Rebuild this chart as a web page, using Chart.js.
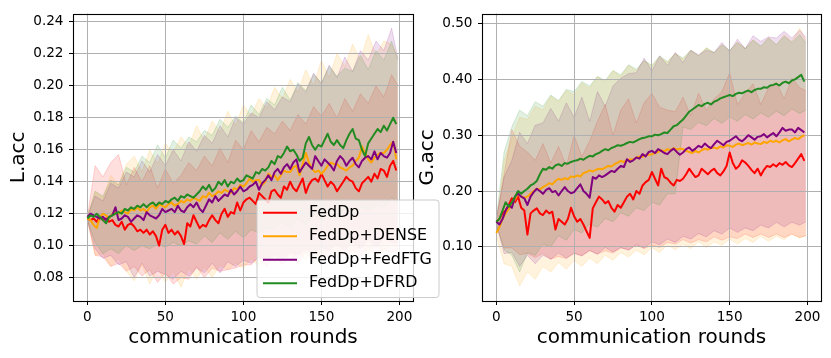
<!DOCTYPE html>
<html><head><meta charset="utf-8">
<script src="https://cdn.jsdelivr.net/npm/chart.js@4/dist/chart.umd.min.js"></script>
<style>
html,body{margin:0;padding:0;background:#fff;width:831px;height:358px;overflow:hidden}
#cL{position:absolute;left:0;top:0;z-index:2}
#cR{position:absolute;left:415px;top:0;z-index:1}
</style></head><body>
<canvas id="cL" width="445" height="358"></canvas>
<canvas id="cR" width="416" height="358"></canvas>
<script>
// ---------------- data ----------------
const seriesNames = ['FedDp', 'FedDp+DENSE', 'FedDp+FedFTG', 'FedDp+DFRD'];
const xTitle = 'communication rounds';
const leftTitle = 'L.acc';
const rightTitle = 'G.acc';
const xTickValues = [0, 50, 100, 150, 200];
const leftTickValues = [0.08, 0.10, 0.12, 0.14, 0.16, 0.18, 0.20, 0.22, 0.24];
const rightTickValues = [0.10, 0.20, 0.30, 0.40, 0.50];

const rounds = [0,2,4,6,8,10,12,14,16,18,20,22,24,26,28,30,32,34,36,38,
40,42,44,46,48,50,52,54,56,58,60,62,64,66,68,70,72,74,76,78,
80,82,84,86,88,90,92,94,96,98,100,102,104,106,108,110,112,114,116,118,
120,122,124,126,128,130,132,134,136,138,140,142,144,146,148,150,152,154,156,158,
160,162,164,166,168,170,172,174,176,178,180,182,184,186,188,190,192,194,196,198];
const bandRounds = [0,5,10,15,20,25,30,35,40,45,50,55,60,65,70,75,80,85,90,95,
100,105,110,115,120,125,130,135,140,145,150,155,160,165,170,175,180,185,190,195,199];

// L.acc means
const leftFedDp = [0.117,0.116,0.117,0.115,0.118,0.116,0.117,0.115,0.116,0.113,
0.112,0.115,0.110,0.113,0.114,0.112,0.109,0.110,0.108,0.110,
0.107,0.109,0.106,0.100,0.110,0.113,0.108,0.110,0.107,0.109,
0.106,0.101,0.114,0.112,0.119,0.115,0.111,0.113,0.112,0.116,
0.119,0.116,0.114,0.120,0.123,0.118,0.121,0.120,0.127,0.122,
0.127,0.129,0.130,0.128,0.126,0.133,0.131,0.129,0.127,0.134,
0.135,0.132,0.130,0.137,0.135,0.140,0.136,0.134,0.138,0.142,
0.133,0.138,0.141,0.142,0.140,0.145,0.141,0.137,0.140,0.138,
0.134,0.137,0.140,0.143,0.141,0.140,0.136,0.134,0.139,0.141,
0.143,0.140,0.145,0.142,0.148,0.147,0.143,0.150,0.153,0.147];
const leftDense = [0.117,0.116,0.113,0.111,0.118,0.120,0.119,0.117,0.120,0.121,
0.120,0.122,0.121,0.120,0.123,0.122,0.124,0.122,0.123,0.121,
0.124,0.125,0.123,0.126,0.125,0.124,0.126,0.127,0.125,0.126,
0.128,0.127,0.129,0.128,0.130,0.129,0.128,0.131,0.130,0.133,
0.131,0.132,0.134,0.133,0.135,0.134,0.133,0.136,0.135,0.138,
0.137,0.139,0.142,0.140,0.141,0.141,0.138,0.140,0.145,0.143,
0.144,0.141,0.144,0.147,0.146,0.146,0.149,0.150,0.144,0.151,
0.158,0.152,0.148,0.146,0.147,0.145,0.147,0.150,0.152,0.151,
0.151,0.149,0.148,0.147,0.149,0.150,0.153,0.155,0.162,0.158,
0.154,0.152,0.155,0.157,0.158,0.158,0.160,0.163,0.165,0.154];
const leftFedFTG = [0.118,0.120,0.119,0.118,0.117,0.118,0.116,0.118,0.119,0.124,
0.116,0.117,0.119,0.118,0.115,0.117,0.119,0.118,0.116,0.121,
0.119,0.118,0.117,0.119,0.123,0.121,0.122,0.123,0.121,0.125,
0.122,0.121,0.124,0.126,0.124,0.127,0.123,0.121,0.125,0.129,
0.127,0.131,0.128,0.130,0.132,0.131,0.135,0.132,0.134,0.137,
0.134,0.135,0.137,0.138,0.140,0.135,0.139,0.141,0.144,0.141,
0.146,0.148,0.145,0.149,0.151,0.148,0.152,0.154,0.146,0.149,
0.152,0.150,0.148,0.156,0.153,0.150,0.154,0.152,0.150,0.147,
0.153,0.156,0.154,0.150,0.153,0.155,0.151,0.149,0.153,0.155,
0.156,0.154,0.159,0.154,0.158,0.156,0.155,0.158,0.165,0.158];
const leftDFRD = [0.117,0.119,0.118,0.120,0.118,0.116,0.114,0.118,0.119,0.120,
0.121,0.120,0.123,0.122,0.124,0.123,0.125,0.124,0.126,0.124,
0.126,0.127,0.125,0.127,0.126,0.128,0.127,0.129,0.130,0.128,
0.131,0.130,0.132,0.131,0.130,0.132,0.134,0.137,0.135,0.138,
0.134,0.136,0.140,0.138,0.141,0.137,0.140,0.139,0.142,0.140,
0.141,0.144,0.143,0.142,0.146,0.145,0.148,0.147,0.149,0.153,
0.151,0.156,0.155,0.158,0.162,0.159,0.160,0.157,0.153,0.155,
0.164,0.168,0.163,0.160,0.163,0.162,0.166,0.170,0.165,0.163,
0.166,0.163,0.161,0.166,0.170,0.173,0.167,0.166,0.160,0.156,
0.164,0.167,0.170,0.173,0.171,0.175,0.172,0.176,0.180,0.176];

// L.acc bands (upper / lower)
const leftFedDpUp = [0.118,0.150,0.143,0.152,0.157,0.138,0.149,0.140,0.150,0.136,0.148,0.139,0.144,0.152,0.147,0.156,0.150,0.161,0.152,0.166,0.160,0.172,0.165,0.174,0.170,0.178,0.172,0.182,0.176,0.187,0.181,0.189,0.180,0.192,0.184,0.195,0.189,0.200,0.193,0.207,0.200];
const leftFedDpLo = [0.116,0.094,0.093,0.087,0.089,0.084,0.087,0.081,0.085,0.077,0.083,0.076,0.080,0.079,0.087,0.080,0.086,0.084,0.085,0.086,0.088,0.088,0.093,0.087,0.094,0.088,0.095,0.089,0.096,0.090,0.097,0.091,0.096,0.094,0.097,0.093,0.099,0.093,0.098,0.096,0.096];
const leftDenseUp = [0.118,0.134,0.130,0.144,0.138,0.151,0.156,0.146,0.160,0.151,0.164,0.158,0.168,0.162,0.175,0.166,0.178,0.171,0.184,0.175,0.188,0.181,0.192,0.186,0.199,0.192,0.204,0.196,0.210,0.200,0.216,0.205,0.220,0.212,0.226,0.216,0.232,0.219,0.228,0.226,0.218];
const leftDenseLo = [0.116,0.094,0.095,0.087,0.092,0.084,0.078,0.088,0.076,0.086,0.077,0.084,0.074,0.086,0.079,0.087,0.080,0.088,0.085,0.089,0.086,0.092,0.087,0.093,0.089,0.095,0.090,0.096,0.091,0.097,0.092,0.098,0.093,0.099,0.094,0.100,0.095,0.101,0.096,0.102,0.098];
const leftFedFTGUp = [0.118,0.131,0.128,0.139,0.136,0.146,0.143,0.153,0.146,0.157,0.150,0.160,0.153,0.165,0.159,0.169,0.164,0.175,0.168,0.180,0.176,0.183,0.180,0.190,0.185,0.193,0.190,0.201,0.196,0.208,0.201,0.213,0.205,0.218,0.209,0.222,0.216,0.228,0.222,0.236,0.217];
const leftFedFTGLo = [0.116,0.098,0.092,0.094,0.088,0.090,0.080,0.089,0.081,0.084,0.082,0.079,0.084,0.081,0.086,0.083,0.089,0.083,0.090,0.087,0.091,0.089,0.093,0.091,0.095,0.092,0.096,0.094,0.098,0.095,0.099,0.097,0.101,0.097,0.103,0.098,0.104,0.099,0.105,0.102,0.102];
const leftDFRDUp = [0.118,0.134,0.131,0.141,0.138,0.149,0.146,0.156,0.152,0.163,0.155,0.166,0.161,0.168,0.165,0.172,0.169,0.179,0.174,0.181,0.177,0.188,0.182,0.192,0.188,0.199,0.191,0.202,0.197,0.207,0.202,0.212,0.206,0.211,0.209,0.219,0.210,0.222,0.216,0.228,0.216];
const leftDFRDLo = [0.116,0.102,0.095,0.098,0.095,0.100,0.097,0.100,0.098,0.101,0.099,0.102,0.100,0.103,0.101,0.106,0.102,0.108,0.104,0.109,0.105,0.110,0.108,0.111,0.110,0.115,0.111,0.117,0.113,0.119,0.116,0.121,0.117,0.123,0.119,0.124,0.122,0.125,0.124,0.130,0.127];

// G.acc means
const rightFedDp = [0.145,0.150,0.160,0.165,0.175,0.187,0.180,0.190,0.170,0.165,
0.122,0.160,0.165,0.169,0.160,0.157,0.165,0.160,0.163,0.131,
0.150,0.145,0.140,0.150,0.170,0.155,0.145,0.150,0.140,0.128,
0.116,0.169,0.180,0.190,0.185,0.178,0.182,0.170,0.163,0.175,
0.170,0.180,0.190,0.195,0.185,0.200,0.195,0.210,0.216,0.220,
0.234,0.222,0.210,0.240,0.225,0.222,0.215,0.210,0.220,0.218,
0.222,0.230,0.240,0.232,0.225,0.228,0.240,0.235,0.230,0.236,
0.240,0.232,0.228,0.235,0.245,0.269,0.250,0.240,0.245,0.255,
0.251,0.245,0.238,0.232,0.240,0.228,0.238,0.245,0.243,0.248,
0.244,0.250,0.247,0.252,0.246,0.243,0.250,0.258,0.266,0.254];
const rightDense = [0.125,0.135,0.150,0.160,0.168,0.175,0.185,0.195,0.190,0.188,
0.190,0.195,0.200,0.204,0.203,0.207,0.210,0.214,0.212,0.218,
0.222,0.220,0.223,0.221,0.226,0.225,0.228,0.226,0.232,0.234,
0.237,0.235,0.238,0.240,0.239,0.242,0.245,0.244,0.248,0.251,
0.254,0.252,0.255,0.257,0.256,0.260,0.262,0.261,0.264,0.265,
0.266,0.268,0.270,0.273,0.271,0.275,0.273,0.277,0.274,0.276,
0.275,0.272,0.270,0.268,0.272,0.269,0.273,0.276,0.274,0.277,
0.278,0.276,0.280,0.278,0.282,0.281,0.279,0.283,0.285,0.282,
0.284,0.286,0.283,0.287,0.285,0.284,0.288,0.286,0.290,0.288,
0.290,0.287,0.291,0.293,0.289,0.292,0.295,0.293,0.297,0.300];
const rightFedFTG = [0.145,0.140,0.150,0.165,0.175,0.170,0.190,0.195,0.190,0.187,
0.175,0.190,0.198,0.204,0.200,0.195,0.202,0.205,0.198,0.200,
0.192,0.200,0.207,0.200,0.196,0.198,0.205,0.212,0.200,0.195,
0.188,0.225,0.222,0.228,0.225,0.228,0.232,0.236,0.234,0.240,
0.245,0.243,0.257,0.252,0.255,0.260,0.258,0.266,0.262,0.270,
0.272,0.268,0.275,0.272,0.268,0.266,0.272,0.276,0.270,0.265,
0.269,0.275,0.278,0.272,0.276,0.281,0.278,0.285,0.280,0.277,
0.284,0.290,0.286,0.282,0.288,0.290,0.294,0.298,0.292,0.289,
0.294,0.300,0.296,0.292,0.297,0.298,0.302,0.296,0.300,0.304,
0.298,0.305,0.313,0.308,0.310,0.310,0.305,0.313,0.309,0.305];
const rightDFRD = [0.145,0.150,0.165,0.180,0.172,0.180,0.190,0.200,0.195,0.200,
0.204,0.210,0.213,0.218,0.230,0.240,0.238,0.243,0.240,0.246,
0.248,0.245,0.250,0.249,0.252,0.254,0.255,0.258,0.256,0.260,
0.263,0.262,0.266,0.268,0.272,0.275,0.273,0.277,0.279,0.282,
0.281,0.283,0.286,0.288,0.287,0.290,0.293,0.295,0.296,0.298,
0.298,0.301,0.300,0.302,0.305,0.304,0.310,0.316,0.318,0.323,
0.328,0.335,0.342,0.346,0.350,0.354,0.352,0.356,0.358,0.355,
0.360,0.362,0.366,0.368,0.370,0.372,0.370,0.374,0.376,0.375,
0.378,0.380,0.377,0.381,0.383,0.383,0.386,0.385,0.389,0.390,
0.392,0.389,0.394,0.396,0.393,0.398,0.400,0.404,0.408,0.396];

// G.acc bands (upper / lower)
const rightFedDpUp = [0.150,0.230,0.310,0.280,0.270,0.255,0.285,0.250,0.280,0.245,0.300,0.262,0.290,0.325,0.355,0.300,0.345,0.365,0.322,0.358,0.375,0.350,0.345,0.342,0.368,0.335,0.375,0.345,0.365,0.378,0.412,0.355,0.375,0.392,0.355,0.385,0.395,0.365,0.402,0.385,0.380];
const rightFedDpLo = [0.140,0.098,0.098,0.086,0.088,0.081,0.088,0.078,0.083,0.079,0.088,0.084,0.093,0.087,0.093,0.089,0.098,0.095,0.103,0.097,0.103,0.099,0.108,0.105,0.113,0.107,0.113,0.109,0.118,0.112,0.118,0.115,0.123,0.117,0.123,0.117,0.123,0.117,0.123,0.117,0.120];
const rightDenseUp = [0.130,0.255,0.295,0.332,0.328,0.352,0.345,0.370,0.360,0.380,0.372,0.393,0.384,0.405,0.395,0.415,0.405,0.425,0.415,0.433,0.424,0.440,0.430,0.447,0.436,0.452,0.442,0.457,0.447,0.462,0.450,0.467,0.455,0.471,0.458,0.475,0.462,0.480,0.468,0.492,0.470];
const rightDenseLo = [0.120,0.070,0.065,0.030,0.055,0.042,0.065,0.055,0.072,0.060,0.076,0.065,0.080,0.070,0.085,0.076,0.090,0.082,0.094,0.086,0.099,0.090,0.104,0.095,0.105,0.097,0.109,0.099,0.109,0.103,0.114,0.105,0.115,0.108,0.119,0.110,0.119,0.113,0.123,0.116,0.120];
const rightFedFTGUp = [0.150,0.225,0.255,0.305,0.285,0.318,0.322,0.348,0.325,0.358,0.332,0.368,0.325,0.378,0.352,0.388,0.402,0.410,0.412,0.438,0.415,0.442,0.425,0.448,0.430,0.452,0.444,0.452,0.448,0.466,0.450,0.472,0.455,0.478,0.468,0.476,0.474,0.486,0.474,0.488,0.475];
const rightFedFTGLo = [0.140,0.088,0.090,0.065,0.085,0.070,0.085,0.078,0.089,0.080,0.089,0.084,0.094,0.087,0.099,0.091,0.099,0.094,0.104,0.098,0.109,0.104,0.114,0.108,0.119,0.114,0.124,0.118,0.129,0.123,0.134,0.126,0.134,0.129,0.139,0.134,0.144,0.136,0.144,0.139,0.145];
const rightDFRDUp = [0.150,0.270,0.315,0.345,0.335,0.360,0.352,0.372,0.362,0.382,0.378,0.396,0.388,0.405,0.398,0.416,0.408,0.426,0.418,0.434,0.425,0.442,0.432,0.446,0.438,0.452,0.442,0.456,0.448,0.462,0.452,0.466,0.455,0.470,0.460,0.474,0.462,0.477,0.466,0.480,0.465];
const rightDFRDLo = [0.140,0.095,0.085,0.055,0.090,0.085,0.105,0.100,0.120,0.112,0.131,0.125,0.141,0.135,0.151,0.145,0.161,0.155,0.170,0.165,0.180,0.175,0.195,0.195,0.315,0.310,0.323,0.317,0.330,0.321,0.333,0.325,0.337,0.329,0.340,0.332,0.343,0.335,0.347,0.339,0.345];

// ---------------- style ----------------
const RGB = [[255,0,0],[255,165,0],[128,0,128],[34,139,34]];
const col = (k,a) => `rgba(${RGB[k][0]},${RGB[k][1]},${RGB[k][2]},${a})`;
const FONT = "'DejaVu Sans', 'Liberation Sans', sans-serif";
Chart.defaults.font.family = FONT;
Chart.defaults.color = '#000';

function pts(xs, ys) { return ys.map((y, i) => ({x: xs[i], y: y})); }

function buildDatasets(means, ups, los) {
  const ds = [];
  for (let k = 0; k < 4; k++) {
    ds.push({label: '_up' + k, data: pts(bandRounds, ups[k]), borderColor: col(k, 0.16), borderWidth: 1,
      pointRadius: 0, fill: false, order: 20 - k, isBand: true});
    ds.push({label: '_lo' + k, data: pts(bandRounds, los[k]), borderColor: col(k, 0.16), backgroundColor: col(k, 0.13),
      borderWidth: 1, pointRadius: 0, fill: '-1', order: 20 - k, isBand: true});
  }
  for (let k = 0; k < 4; k++) {
    ds.push({label: seriesNames[k], data: pts(rounds, means[k]), borderColor: col(k, 1), borderWidth: 2,
      pointRadius: 0, fill: false, order: 4 - k, borderJoinStyle: 'round', isMain: true});
  }
  return ds;
}

function gridAgain(chart) {
  const ctx = chart.ctx, a = chart.chartArea;
  const al = p => Math.round(p - 0.5) + 0.5;
  ctx.save();
  ctx.strokeStyle = '#b0b0b0'; ctx.lineWidth = 1;
  ctx.beginPath();
  chart.scales.x.ticks.forEach(t => {
    const p = al(chart.scales.x.getPixelForValue(t.value));
    ctx.moveTo(p, a.top); ctx.lineTo(p, a.bottom);
  });
  chart.scales.y.ticks.forEach(t => {
    const p = al(chart.scales.y.getPixelForValue(t.value));
    ctx.moveTo(a.left, p); ctx.lineTo(a.right, p);
  });
  ctx.stroke();
  ctx.restore();
}

const decorPlugin = {
  id: 'decor',
  beforeDatasetsDraw(chart) { chart.$gridDone = false; },
  beforeDatasetDraw(chart, args) {
    const ds = chart.data.datasets[args.index];
    if (ds.isMain && !chart.$gridDone) { gridAgain(chart); chart.$gridDone = true; }
  },
  afterDatasetsDraw(chart) {
    const ctx = chart.ctx, a = chart.chartArea;
    ctx.save();
    ctx.strokeStyle = '#000'; ctx.lineWidth = 1.1;
    ctx.strokeRect(Math.round(a.left) + 0.5, Math.round(a.top) + 0.5, Math.round(a.right - a.left), Math.round(a.bottom - a.top));
    ctx.restore();
  }
};

const legendPlugin = {
  id: 'boxLegend',
  afterDraw(chart) {
    const ctx = chart.ctx;
    const x0 = 257, y0 = 200, w = 182, h = 97.5, r = 3;
    ctx.save();
    ctx.beginPath();
    ctx.moveTo(x0 + r, y0); ctx.lineTo(x0 + w - r, y0); ctx.arcTo(x0 + w, y0, x0 + w, y0 + r, r);
    ctx.lineTo(x0 + w, y0 + h - r); ctx.arcTo(x0 + w, y0 + h, x0 + w - r, y0 + h, r);
    ctx.lineTo(x0 + r, y0 + h); ctx.arcTo(x0, y0 + h, x0, y0 + h - r, r);
    ctx.lineTo(x0, y0 + r); ctx.arcTo(x0, y0, x0 + r, y0, r);
    ctx.closePath();
    ctx.fillStyle = 'rgba(255,255,255,0.8)'; ctx.fill();
    ctx.strokeStyle = '#cccccc'; ctx.lineWidth = 1; ctx.stroke();
    const mains = chart.data.datasets.filter(d => d.isMain);
    ctx.font = '15.9px ' + FONT;
    ctx.textBaseline = 'middle';
    mains.forEach((d, i) => {
      const y = 212.7 + i * 23.55;
      ctx.strokeStyle = d.borderColor; ctx.lineWidth = 2;
      ctx.beginPath(); ctx.moveTo(263, y); ctx.lineTo(297, y); ctx.stroke();
      ctx.fillStyle = '#000';
      ctx.fillText(d.label, 309, y);
    });
    ctx.restore();
  }
};

function makeChart(id, means, ups, los, yMin, yMax, yTicks, yTitle, yWidth, padRight, titlePad, extraPlugins) {
  return new Chart(document.getElementById(id), {
    type: 'line',
    data: {datasets: buildDatasets(means, ups, los)},
    options: {
      responsive: false, animation: false, devicePixelRatio: 1, events: [],
      layout: {padding: {left: 0, right: padRight, top: 9, bottom: 0}},
      plugins: {legend: {display: false}, tooltip: {enabled: false}},
      elements: {line: {tension: 0}},
      scales: {
        x: {
          type: 'linear', min: -9.2, max: 208.7,
          afterBuildTicks: s => { s.ticks = xTickValues.map(v => ({value: v})); },
          afterFit: s => { s.height = 57; },
          grid: {drawOnChartArea: false, color: '#b0b0b0', lineWidth: 1, tickLength: 4, tickColor: '#000', drawTicks: true},
          border: {display: false},
          ticks: {color: '#000', font: {size: 13.6}, padding: 4.5, maxRotation: 0, autoSkip: false,
            callback: v => String(v)},
          title: {display: true, text: xTitle, color: '#000', font: {size: 20}, padding: {top: 0, bottom: 8.5}}
        },
        y: {
          type: 'linear', min: yMin, max: yMax,
          afterBuildTicks: s => { s.ticks = yTicks.map(v => ({value: v})); },
          afterFit: s => { s.width = yWidth; },
          grid: {drawOnChartArea: false, color: '#b0b0b0', lineWidth: 1, tickLength: 4, tickColor: '#000', drawTicks: true},
          border: {display: false},
          ticks: {color: '#000', font: {size: 13.6}, padding: 5.5, callback: v => Number(v).toFixed(2)},
          title: {display: true, text: yTitle, color: '#000', font: {size: 20}, padding: {top: titlePad, bottom: 0}}
        }
      }
    },
    plugins: [decorPlugin].concat(extraPlugins)
  });
}

makeChart('cL',
  [leftFedDp, leftDense, leftFedFTG, leftDFRD],
  [leftFedDpUp, leftDenseUp, leftFedFTGUp, leftDFRDUp],
  [leftFedDpLo, leftDenseLo, leftFedFTGLo, leftDFRDLo],
  0.0654, 0.2451, leftTickValues, leftTitle, 73, 32, 6.3, [legendPlugin]);

makeChart('cR',
  [rightFedDp, rightDense, rightFedFTG, rightDFRD],
  [rightFedDpUp, rightDenseUp, rightFedFTGUp, rightDFRDUp],
  [rightFedDpLo, rightDenseLo, rightFedFTGLo, rightDFRDLo],
  0.0031, 0.5176, rightTickValues, rightTitle, 67, 10, 0.5, []);
</script>
</body></html>
